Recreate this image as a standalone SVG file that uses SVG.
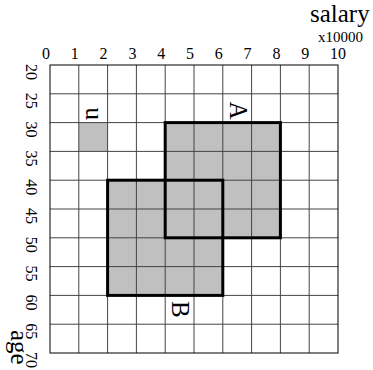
<svg xmlns="http://www.w3.org/2000/svg" width="373" height="370" viewBox="0 0 373 370">
<style>
  text { font-family: 'Liberation Serif', 'Times New Roman', serif; fill: #000; }
  .num { font-size: 16px; }
  .lbl { font-size: 25px; }
  .fill { fill: #c0c0c0; stroke: none; }
  .grid line { stroke: #444; stroke-width: 1; }
  .frame { fill: none; stroke: #000; stroke-width: 1; }
  .thick { fill: none; stroke: #000; stroke-width: 3; }
</style>
<rect width="373" height="370" fill="#fff"/>
<g id="fills">
  <rect id="cell-u-fill" class="fill" x="78.8" y="122.6" width="28.8" height="28.8"/>
  <rect id="rect-A-fill" class="fill" x="165.2" y="122.6" width="115.2" height="115.2"/>
  <rect id="rect-B-fill" class="fill" x="107.6" y="180.2" width="115.2" height="115.2"/>
</g>
<g class="grid" id="grid">
  <line x1="78.8" y1="65" x2="78.8" y2="353"/>
  <line x1="107.6" y1="65" x2="107.6" y2="353"/>
  <line x1="136.4" y1="65" x2="136.4" y2="353"/>
  <line x1="165.2" y1="65" x2="165.2" y2="353"/>
  <line x1="194" y1="65" x2="194" y2="353"/>
  <line x1="222.8" y1="65" x2="222.8" y2="353"/>
  <line x1="251.6" y1="65" x2="251.6" y2="353"/>
  <line x1="280.4" y1="65" x2="280.4" y2="353"/>
  <line x1="309.2" y1="65" x2="309.2" y2="353"/>
  <line x1="50" y1="93.8" x2="338" y2="93.8"/>
  <line x1="50" y1="122.6" x2="338" y2="122.6"/>
  <line x1="50" y1="151.4" x2="338" y2="151.4"/>
  <line x1="50" y1="180.2" x2="338" y2="180.2"/>
  <line x1="50" y1="209" x2="338" y2="209"/>
  <line x1="50" y1="237.8" x2="338" y2="237.8"/>
  <line x1="50" y1="266.6" x2="338" y2="266.6"/>
  <line x1="50" y1="295.4" x2="338" y2="295.4"/>
  <line x1="50" y1="324.2" x2="338" y2="324.2"/>
</g>
<rect class="frame" x="50" y="65" width="288" height="288"/>
<g id="node-A">
  <rect class="thick" x="165.2" y="122.6" width="115.2" height="115.2"/>
  <text class="lbl" transform="translate(230,101.5) rotate(90)">A</text>
</g>
<g id="node-B">
  <rect class="thick" x="107.6" y="180.2" width="115.2" height="115.2"/>
  <text class="lbl" transform="translate(172,301) rotate(90)">B</text>
</g>
<g id="node-u">
  <text class="lbl" transform="translate(85.5,107.5) rotate(90)">u</text>
</g>
<g id="x-axis">
  <text class="num" x="42" y="58.5">0</text>
  <text class="num" x="70.8" y="58.5">1</text>
  <text class="num" x="99.6" y="58.5">2</text>
  <text class="num" x="128.4" y="58.5">3</text>
  <text class="num" x="157.2" y="58.5">4</text>
  <text class="num" x="186" y="58.5">5</text>
  <text class="num" x="214.8" y="58.5">6</text>
  <text class="num" x="243.6" y="58.5">7</text>
  <text class="num" x="272.4" y="58.5">8</text>
  <text class="num" x="301.2" y="58.5">9</text>
  <text class="num" x="330" y="58.5">10</text>
  <text x="318" y="42" font-size="15">x10000</text>
  <text x="310" y="21.5" font-size="25">salary</text>
</g>
<g id="y-axis">
  <text class="num" transform="translate(26,64) rotate(90)">20</text>
  <text class="num" transform="translate(26,92.8) rotate(90)">25</text>
  <text class="num" transform="translate(26,121.6) rotate(90)">30</text>
  <text class="num" transform="translate(26,150.4) rotate(90)">35</text>
  <text class="num" transform="translate(26,179.2) rotate(90)">40</text>
  <text class="num" transform="translate(26,208) rotate(90)">45</text>
  <text class="num" transform="translate(26,236.8) rotate(90)">50</text>
  <text class="num" transform="translate(26,265.6) rotate(90)">55</text>
  <text class="num" transform="translate(26,294.4) rotate(90)">60</text>
  <text class="num" transform="translate(26,323.2) rotate(90)">65</text>
  <text class="num" transform="translate(26,352) rotate(90)">70</text>
  <text font-size="25" transform="translate(11,330) rotate(90)">age</text>
</g>
</svg>
